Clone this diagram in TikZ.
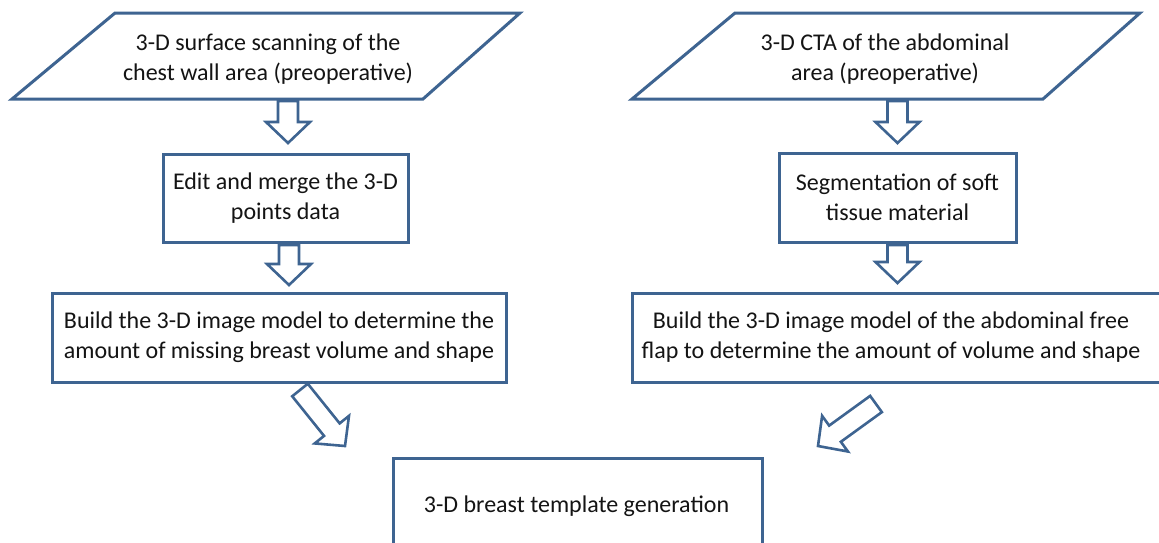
\documentclass[tikz,border=0pt]{standalone}
\usepackage{fontspec}
\setmainfont{Carlito}
\usetikzlibrary{calc}
\definecolor{bord}{RGB}{62,100,145}
\definecolor{txt}{RGB}{20,20,20}
\tikzset{
  shapeline/.style={draw=bord, line width=3pt, line join=miter, fill=white},
  barrow/.style={draw=bord, line width=2.6pt, line join=miter, fill=white},
  lbl/.style={align=center, text=txt, font=\fontsize{24}{30}\selectfont, inner sep=0pt}
}
\newcommand\blockarrow[2]{%
  \coordinate (hb) at ($(#2)!21pt!(#1)$);
  \draw[barrow] ($(#1)!10pt!90:(#2)$) -- ($(hb)!10pt!90:(#2)$) -- ($(hb)!22pt!90:(#2)$) -- (#2)
    -- ($(hb)!22pt!-90:(#2)$) -- ($(hb)!10pt!-90:(#2)$) -- ($(#1)!10pt!-90:(#2)$) -- cycle;}
\begin{document}
\begin{tikzpicture}[x=1pt,y=-1pt]
\useasboundingbox[fill=white] (0,0) rectangle (1159,542);
\clip (0,0) rectangle (1159,542);
% parallelograms (input)
\draw[shapeline] (115,13) -- (520,13) -- (423,99) -- (12,99) -- cycle;
\node[lbl] (p1) at (268,59) {3-D surface scanning of the\\chest wall area (preoperative)};
\draw[shapeline] (735,13) -- (1140,13) -- (1043,99) -- (632,99) -- cycle;
\node[lbl] (p2) at (885,59) {3-D CTA of the abdominal\\area (preoperative)};
% boxes
\draw[shapeline] (163,154) rectangle (408,242);
\node[lbl] (b1) at (285.5,198) {Edit and merge the 3-D\\points data};
\draw[shapeline] (779,153) rectangle (1016,242);
\node[lbl] (b2) at (897.5,197.5) {Segmentation of soft\\tissue material};
\draw[shapeline] (52,293) rectangle (506,382);
\node[lbl] (b3) at (279,337.5) {Build the 3-D image model to determine the\\amount of missing breast volume and shape};
\draw[shapeline] (632,293) rectangle (1168,382);
\node[lbl] (b4) at (891,337.5) {Build the 3-D image model of the abdominal free\\flap to determine the amount of volume and shape};
\draw[shapeline] (393,458) rectangle (762,560);
\node[lbl] (b5) at (576.5,506) {3-D breast template generation};
% arrows
\coordinate (a1s) at (288,101);  \coordinate (a1e) at (288,143);
\coordinate (a2s) at (289,245);  \coordinate (a2e) at (289,285);
\coordinate (a3s) at (897.5,101); \coordinate (a3e) at (897.5,143);
\coordinate (a4s) at (897.5,245); \coordinate (a4e) at (897.5,283);
\coordinate (a5s) at (300,390);  \coordinate (a5e) at (345,446);
\coordinate (a6s) at (876,404);  \coordinate (a6e) at (818,446);
\blockarrow{a1s}{a1e}
\blockarrow{a2s}{a2e}
\blockarrow{a3s}{a3e}
\blockarrow{a4s}{a4e}
\blockarrow{a5s}{a5e}
\blockarrow{a6s}{a6e}
\end{tikzpicture}
\end{document}
